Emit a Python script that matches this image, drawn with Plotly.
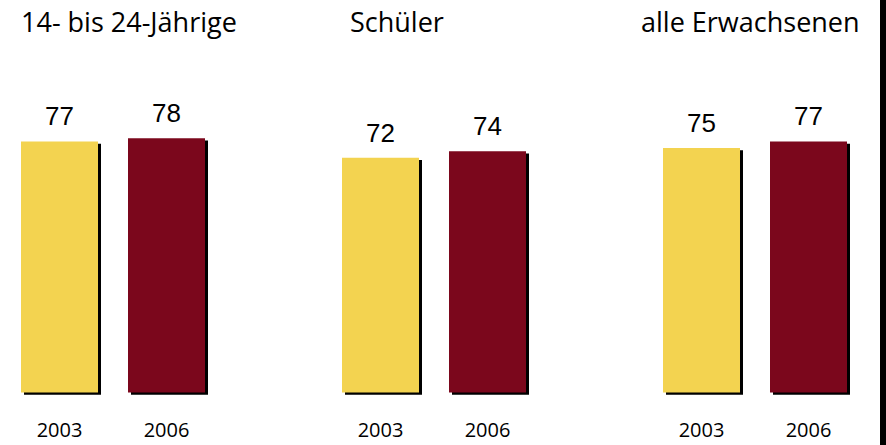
import plotly.graph_objects as go

groups = ["14- bis 24-Jährige", "Schüler", "alle Erwachsenen"]
years = ["2003", "2006"]
values_2003 = [77, 72, 75]
values_2006 = [78, 74, 77]

colors = {"2003": "#F3D350", "2006": "#7B071C"}

W, H = 886, 445
right_bar_px = 6
plot_w = W - right_bar_px
plot_h = H
px_per_unit = 3.26
zero_px = 392.5
slot_px = 107.0
first_center_px = 59.5

y_top = zero_px / px_per_unit
y_bot = -(plot_h - zero_px) / px_per_unit
x_left = -first_center_px / slot_px
x_right = (plot_w - first_center_px) / slot_px
bar_w = 77 / slot_px
shadow_dx = 3 / slot_px
shadow_dy = 2.3 / px_per_unit

series = {"2003": values_2003, "2006": values_2006}

fig = go.Figure()
positions = {}
for i, yr in enumerate(years):
    positions[yr] = [3 * g + i for g in range(len(groups))]

# drop shadows
for yr in years:
    fig.add_trace(go.Bar(
        x=[p + shadow_dx for p in positions[yr]],
        y=series[yr],
        base=-shadow_dy,
        width=bar_w,
        marker=dict(color="black", line=dict(width=0)),
        hoverinfo="skip",
        showlegend=False,
    ))
for yr in years:
    fig.add_trace(go.Bar(
        x=positions[yr],
        y=series[yr],
        width=bar_w,
        name=yr,
        marker=dict(color=colors[yr], line=dict(width=0)),
        showlegend=False,
    ))
    for p, v in zip(positions[yr], series[yr]):
        fig.add_annotation(
            x=p, y=v, xref="x", yref="y", text=str(v), showarrow=False,
            yanchor="bottom", xanchor="center", yshift=8,
            font=dict(family="Liberation Sans, Arial", size=26, color="black"),
        )

title_left_px = [19, 348, 639]
for g, t in enumerate(groups):
    fig.add_annotation(
        x=title_left_px[g] / plot_w, y=1 - 22 / plot_h, xref="paper", yref="paper",
        text=t, showarrow=False, xanchor="left", yanchor="middle",
        font=dict(family="Open Sans", size=27, color="black"),
    )

tickvals = [p for yr in years for p in positions[yr]]
ticktext = [yr for yr in years for _ in groups]

fig.update_layout(
    width=W, height=H,
    margin=dict(l=0, r=right_bar_px, t=0, b=0, pad=0),
    barmode="overlay",
    plot_bgcolor="white", paper_bgcolor="black",
    xaxis=dict(range=[x_left, x_right], tickvals=tickvals, ticktext=ticktext,
               showgrid=False, zeroline=False, showline=False, ticks="",
               ticklabelposition="inside", ticklabelstandoff=1,
               tickfont=dict(family="Open Sans", size=20, color="black")),
    yaxis=dict(range=[y_bot, y_top], visible=False, showgrid=False, zeroline=False),
)

fig.write_html(
    "out.html",
    config={"displayModeBar": False},
    post_script="document.body.style.margin='0';document.body.style.overflow='hidden';",
)
